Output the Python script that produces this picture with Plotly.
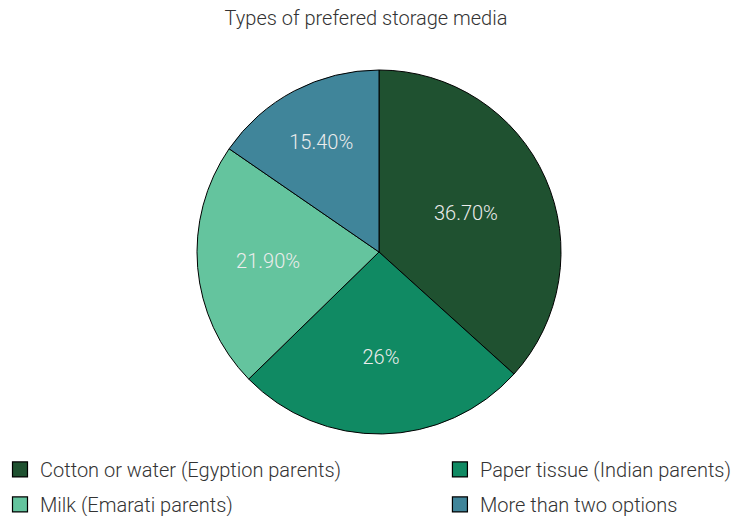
import plotly.graph_objects as go

labels = ["Cotton or water (Egyption parents)", "Paper tissue (Indian parents)",
          "Milk (Emarati parents)", "More than two options"]
values = [36.7, 26.0, 21.9, 15.4]
texts = ["36.70%", "26%", "21.90%", "15.40%"]
colors = ["#1f5130", "#108a63", "#64c49e", "#40859a"]
legend_column = ["legend", "legend2", "legend", "legend2"]

fig = go.Figure()
fig.add_trace(go.Pie(
    labels=labels, values=values, text=texts, textinfo="text",
    sort=False, direction="clockwise", rotation=0,
    marker=dict(colors=colors, line=dict(color="#000000", width=1)),
    textposition="inside", insidetextorientation="horizontal",
    insidetextfont=dict(family="Roboto", size=20, color="#ececec", weight=300),
    hoverinfo="label+text", showlegend=False,
))

# legend entries (two columns, as in the reference)
for lab, col, lg in zip(labels, colors, legend_column):
    fig.add_trace(go.Scatter(
        x=[None], y=[None], mode="markers", name=lab, legend=lg, legendgroup=lab,
        marker=dict(symbol="square", size=15, color=col, line=dict(color="#000000", width=1.2)),
        hoverinfo="skip",
    ))

legend_common = dict(
    orientation="v", xanchor="left", xref="container", yanchor="top", yref="container",
    y=0.128, tracegroupgap=6,
    font=dict(family="Roboto", size=20, color="#333333", weight=300),
    itemclick=False, itemdoubleclick=False, bgcolor="rgba(0,0,0,0)",
)

fig.update_layout(
    width=732, height=516,
    margin=dict(l=26, r=0, t=70, b=82, autoexpand=False),
    paper_bgcolor="white", plot_bgcolor="white",
    font=dict(family="Roboto", color="#333333"),
    xaxis=dict(visible=False), yaxis=dict(visible=False),
    title=dict(text="Types of prefered storage media", x=0.5, xanchor="center",
               y=0.965, yanchor="middle", yref="container",
               font=dict(family="Roboto", size=20, color="#333333", weight=300)),
    legend=dict(x=0.0, **legend_common),
    legend2=dict(x=0.601, **legend_common),
    showlegend=True,
)

fig.write_html("out.html")
